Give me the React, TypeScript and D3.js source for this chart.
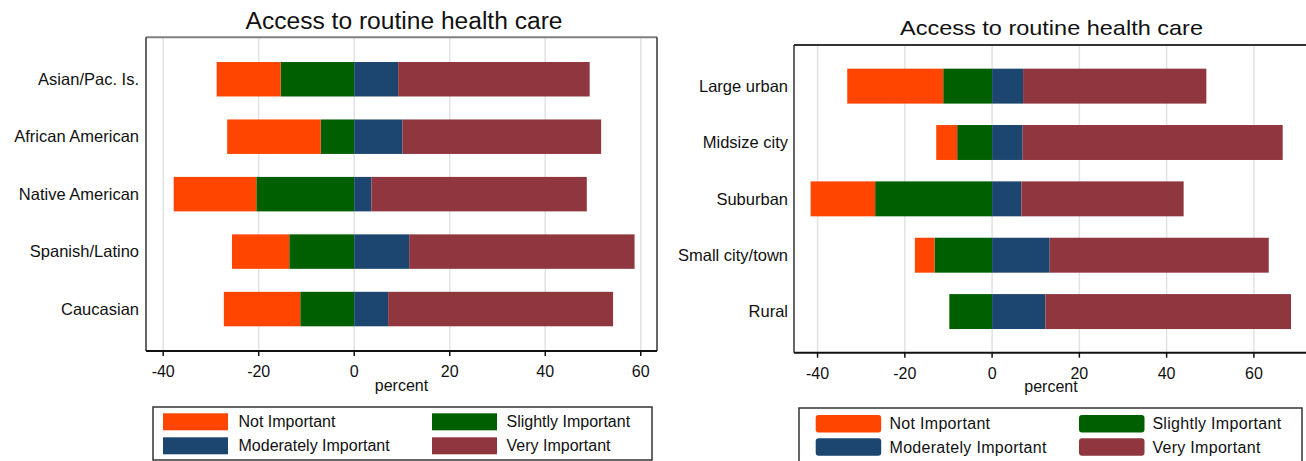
import React from "react";
import * as d3 from "d3";

// categories
const ethnicGroups = ["Asian/Pac. Is.", "African American", "Native American", "Spanish/Latino", "Caucasian"];
const placeGroups = ["Large urban", "Midsize city", "Suburban", "Small city/town", "Rural"];

const levels = ["Not Important", "Slightly Important", "Moderately Important", "Very Important"];
const levelColors = ["#ff4500", "#005f00", "#1c4670", "#8f363e"];

// percent values by ethnicity
const ethnicNot = [13.4, 19.6, 17.3, 12.0, 16.0];
const ethnicSlight = [15.4, 7.0, 20.5, 13.6, 11.3];
const ethnicModerate = [9.2, 10.1, 3.6, 11.5, 7.1];
const ethnicVery = [40.1, 41.6, 45.1, 47.2, 47.1];

// percent values by place type
const placeNot = [22.0, 4.8, 14.8, 4.5, 0];
const placeSlight = [11.2, 8.0, 26.8, 13.2, 9.8];
const placeModerate = [7.1, 7.0, 6.7, 13.2, 12.2];
const placeVery = [42.0, 59.6, 37.2, 50.2, 56.3];

const title = "Access to routine health care";
const FONT = "'Liberation Sans', Arial, sans-serif";

function Panel({ cfg, groups, not, slight, moderate, very }) {
  const x = d3.scaleLinear().domain(cfg.domain).range([cfg.left, cfg.right]);
  const y = d3
    .scaleBand()
    .domain(groups)
    .range([cfg.top, cfg.bottom])
    .paddingInner(cfg.padIn)
    .paddingOuter(cfg.padOut);

  const rows = groups.map((g, i) => ({
    group: g,
    "Not Important": -not[i],
    "Slightly Important": -slight[i],
    "Moderately Important": moderate[i],
    "Very Important": very[i],
  }));
  const keys = ["Slightly Important", "Not Important", "Moderately Important", "Very Important"];
  const stacked = d3.stack().keys(keys).offset(d3.stackOffsetDiverging)(rows);
  const color = d3.scaleOrdinal().domain(levels).range(levelColors);
  const ticks = x.ticks(5);
  const frameRight = Math.min(cfg.right, 1306);

  return (
    <g>
      <text
        x={cfg.titleX}
        y={cfg.titleY}
        textAnchor="middle"
        fontFamily={FONT}
        fontSize={cfg.titleSize}
        textLength={cfg.titleLen}
        lengthAdjust="spacingAndGlyphs"
        fill="#111"
      >
        {title}
      </text>
      {ticks.map((t) => (
        <line key={"g" + t} x1={x(t)} x2={x(t)} y1={cfg.top} y2={cfg.bottom} stroke="#e2e2e2" strokeWidth={1.5} />
      ))}
      {stacked.map((s) => (
        <g key={s.key} fill={color(s.key)}>
          {s.map((d, i) =>
            Math.abs(d[1] - d[0]) > 0 ? (
              <rect
                key={i}
                x={x(Math.min(d[0], d[1]))}
                width={Math.abs(x(d[1]) - x(d[0]))}
                y={y(groups[i])}
                height={y.bandwidth()}
              />
            ) : null
          )}
        </g>
      ))}
      {/* frame */}
      <line x1={cfg.left} x2={frameRight} y1={cfg.top} y2={cfg.top} stroke={cfg.topColor} strokeWidth={2} />
      <line x1={cfg.left} x2={cfg.left} y1={cfg.top} y2={cfg.bottom} stroke="#333" strokeWidth={1.5} />
      {cfg.right < 1306 && (
        <line x1={cfg.right} x2={cfg.right} y1={cfg.top} y2={cfg.bottom} stroke="#333" strokeWidth={1.5} />
      )}
      <line x1={cfg.left} x2={frameRight} y1={cfg.bottom} y2={cfg.bottom} stroke="#111" strokeWidth={2} />
      {ticks.map((t) => (
        <g key={"t" + t}>
          <line x1={x(t)} x2={x(t)} y1={cfg.bottom} y2={cfg.bottom + 5} stroke="#111" strokeWidth={1.5} />
          <text x={x(t)} y={cfg.tickY} textAnchor="middle" fontFamily={FONT} fontSize={16} fill="#111">
            {t}
          </text>
        </g>
      ))}
      <text
        x={(cfg.left + Math.min(cfg.right, 1310)) / 2}
        y={cfg.percentY}
        textAnchor="middle"
        fontFamily={FONT}
        fontSize={16}
        fill="#111"
      >
        percent
      </text>
      {groups.map((g) => (
        <text
          key={g}
          x={cfg.labelX}
          y={y(g) + y.bandwidth() / 2}
          dy="0.35em"
          textAnchor="end"
          fontFamily={FONT}
          fontSize={16.5}
          fill="#111"
        >
          {g}
        </text>
      ))}
      {/* legend */}
      <rect
        x={cfg.legX}
        y={cfg.legY}
        width={cfg.legW}
        height={cfg.legH}
        fill="white"
        stroke="#333"
        strokeWidth={1.5}
      />
      {levels.map((lv, i) => {
        const col = i % 2;
        const row = Math.floor(i / 2);
        const sx = col === 0 ? cfg.sw1 : cfg.sw2;
        const tx = col === 0 ? cfg.tx1 : cfg.tx2;
        const sy = row === 0 ? cfg.row1 : cfg.row2;
        return (
          <g key={lv}>
            <rect x={sx} y={sy} width={cfg.swW} height={cfg.swH} rx={cfg.swR} fill={color(lv)} />
            <text
              x={tx}
              y={sy + cfg.swH / 2}
              dy="0.35em"
              fontFamily={FONT}
              fontSize={16}
              fill="#111"
              letterSpacing={cfg.legSpacing}
            >
              {lv}
            </text>
          </g>
        );
      })}
    </g>
  );
}

const leftCfg = {
  domain: [-43.6, 63.4],
  left: 146,
  right: 657,
  top: 37.3,
  bottom: 351,
  padIn: 0.4,
  padOut: 0.43,
  topColor: "#808080",
  titleX: 404,
  titleY: 28.5,
  titleSize: 23,
  titleLen: 317,
  tickY: 376.5,
  percentY: 391,
  labelX: 139,
  legX: 153,
  legY: 407,
  legW: 499,
  legH: 53,
  sw1: 163,
  sw2: 432,
  tx1: 238.5,
  tx2: 506.5,
  row1: 413.3,
  row2: 437.3,
  swW: 65,
  swH: 17,
  swR: 0,
  legSpacing: 0,
};

const rightCfg = {
  domain: [-45.4, 72.4],
  left: 794,
  right: 1308,
  top: 45,
  bottom: 352.7,
  padIn: 0.38,
  padOut: 0.42,
  topColor: "#333",
  titleX: 1051.5,
  titleY: 35,
  titleSize: 21,
  titleLen: 303,
  tickY: 379,
  percentY: 392,
  labelX: 788,
  legX: 799,
  legY: 408,
  legW: 503,
  legH: 60,
  sw1: 815.7,
  sw2: 1079,
  tx1: 889.5,
  tx2: 1152.4,
  row1: 415,
  row2: 438.3,
  swW: 65.5,
  swH: 17.5,
  swR: 3,
  legSpacing: 0.3,
};

export default function App() {
  return (
    <svg
      width={1306}
      height={461}
      style={{ position: "absolute", left: 0, top: 0, background: "white" }}
    >
      <Panel cfg={leftCfg} groups={ethnicGroups} not={ethnicNot} slight={ethnicSlight} moderate={ethnicModerate} very={ethnicVery} />
      <Panel cfg={rightCfg} groups={placeGroups} not={placeNot} slight={placeSlight} moderate={placeModerate} very={placeVery} />
    </svg>
  );
}
